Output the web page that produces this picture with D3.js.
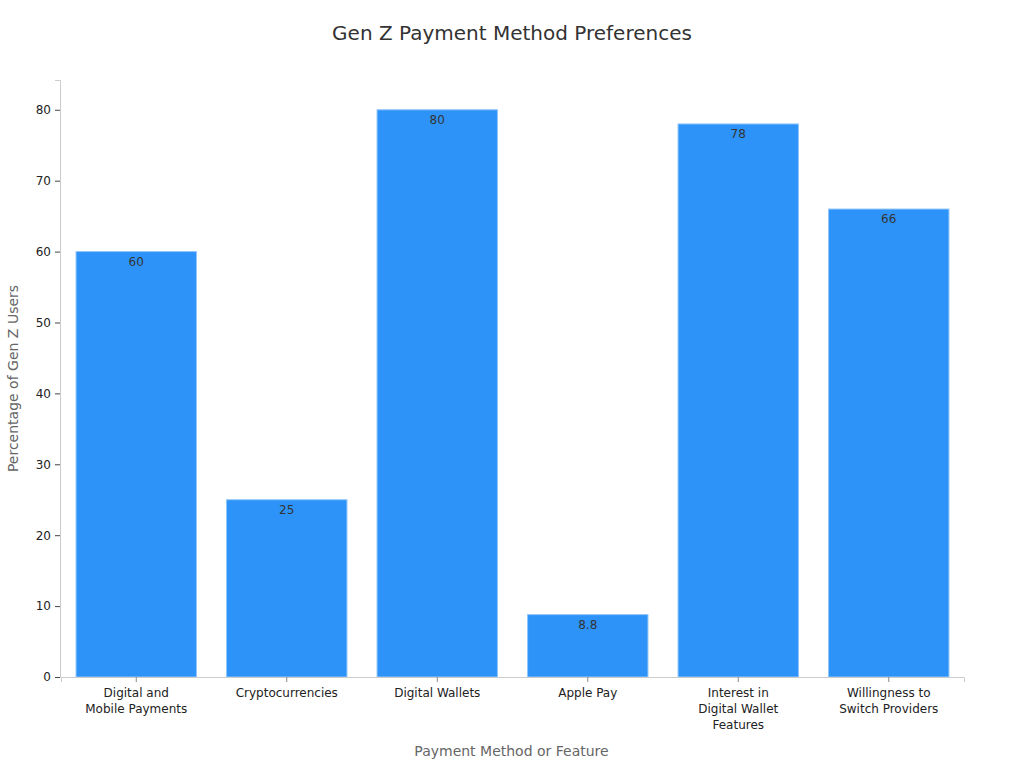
<!DOCTYPE html>
<html>
<head>
<meta charset="utf-8">
<script src="https://cdn.jsdelivr.net/npm/d3@7"></script>
<style>
  body { margin: 0; background: #fff; }
  svg, svg text { font-family: "DejaVu Sans", sans-serif; }
</style>
</head>
<body>
<div id="chart"></div>
<script>
// Data
const categories = [
  ["Digital and", "Mobile Payments"],
  ["Cryptocurrencies"],
  ["Digital Wallets"],
  ["Apple Pay"],
  ["Interest in", "Digital Wallet", "Features"],
  ["Willingness to", "Switch Providers"]
];
const values = [60, 25, 80, 8.8, 78, 66];
const yTicks = [0, 10, 20, 30, 40, 50, 60, 70, 80];

const W = 1024, H = 768;
const margin = {top: 80, right: 61, bottom: 91, left: 60};
const width = W - margin.left - margin.right,
      height = H - margin.top - margin.bottom;

const svg = d3.select("#chart").append("svg")
  .attr("width", W).attr("height", H);

svg.append("text")
  .attr("x", W / 2).attr("y", 40)
  .attr("text-anchor", "middle")
  .attr("font-size", 20).attr("fill", "#333")
  .text("Gen Z Payment Method Preferences");

const g = svg.append("g")
  .attr("transform", `translate(${margin.left},${margin.top})`);

const keys = categories.map((c, i) => i);
const x = d3.scaleBand().domain(keys).range([1, width + 1])
  .paddingInner(0.2).paddingOuter(0.1);
const y = d3.scaleLinear().domain([0, 84.2]).range([height, 0]);

// bars
g.selectAll("rect.bar").data(values).join("rect")
  .attr("class", "bar")
  .attr("x", (d, i) => x(i))
  .attr("y", d => y(d))
  .attr("width", x.bandwidth())
  .attr("height", d => height - y(d))
  .attr("fill", "#2e93f9")
  .attr("stroke", "#8ec5fb")
  .attr("stroke-width", 1);

// value labels
g.selectAll("text.val").data(values).join("text")
  .attr("class", "val")
  .attr("x", (d, i) => x(i) + x.bandwidth() / 2)
  .attr("y", d => y(d) + 14)
  .attr("text-anchor", "middle")
  .attr("font-size", 12).attr("fill", "#333")
  .text(d => d);

// Y axis
const yAxis = g.append("g")
  .call(d3.axisLeft(y).tickValues(yTicks).tickSize(5).tickPadding(4));
yAxis.attr("font-family", "DejaVu Sans");
yAxis.select(".domain").attr("stroke", "#ccc");
yAxis.selectAll(".tick line").attr("stroke", "#444");
yAxis.selectAll(".tick text").attr("font-size", 12).attr("fill", "#222");

// X axis
const xAxis = g.append("g")
  .attr("transform", `translate(0,${height})`)
  .call(d3.axisBottom(x).tickSize(5).tickFormat(""));
xAxis.attr("font-family", "DejaVu Sans");
xAxis.select(".domain").attr("stroke", "#ccc");
xAxis.selectAll(".tick line").attr("stroke", "#888");
xAxis.selectAll(".tick").each(function(d) {
  const t = d3.select(this).append("text")
    .attr("text-anchor", "middle")
    .attr("font-size", 12).attr("fill", "#222")
    .attr("y", 20);
  categories[d].forEach((line, j) => {
    t.append("tspan").attr("x", 0).attr("dy", j === 0 ? 0 : 16).text(line);
  });
});

// axis titles
svg.append("text")
  .attr("x", margin.left + width / 2).attr("y", 756)
  .attr("text-anchor", "middle")
  .attr("font-size", 14).attr("fill", "#666")
  .text("Payment Method or Feature");

svg.append("text")
  .attr("transform", `translate(18,${margin.top + height / 2}) rotate(-90)`)
  .attr("text-anchor", "middle")
  .attr("font-size", 14).attr("fill", "#666")
  .text("Percentage of Gen Z Users");
</script>
</body>
</html>
